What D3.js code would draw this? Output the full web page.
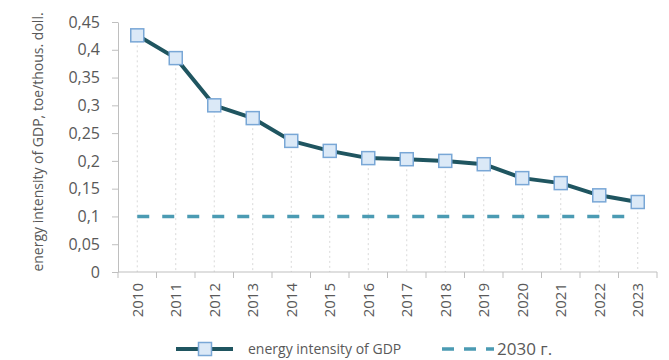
<!DOCTYPE html>
<html>
<head>
<meta charset="utf-8">
<script src="https://cdn.jsdelivr.net/npm/d3@7/dist/d3.min.js"></script>
<style>
  html, body { margin: 0; padding: 0; background: #fff; }
  svg { display: block; }
  text { font-family: "Open Sans", "Noto Sans", sans-serif; fill: #595959; }
</style>
</head>
<body>
<svg id="chart" width="669" height="360"></svg>
<script>
// Energy intensity of GDP by year, with the 2030 target level
const years = ["2010","2011","2012","2013","2014","2015","2016","2017","2018","2019","2020","2021","2022","2023"];
const intensity = [0.426, 0.385, 0.300, 0.277, 0.236, 0.218, 0.205, 0.203, 0.200, 0.194, 0.169, 0.160, 0.138, 0.126];
const target2030 = 0.1;
const yTicks = [0, 0.05, 0.1, 0.15, 0.2, 0.25, 0.3, 0.35, 0.4, 0.45];

(function () {
const svg = d3.select("#chart");
const mLeft = 118, mRight = 657, mTop = 22, mBottom = 272;

const x = d3.scaleBand().domain(years).range([mLeft, mRight]);
const y = d3.scaleLinear().domain([0, 0.45]).range([mBottom, mTop]);
const fmt = d => String(d).replace(".", ",");
const cx = d => x(d) + x.bandwidth() / 2;

// vertical dotted guides from each point down to the axis
svg.append("g").selectAll("line").data(years).join("line")
  .attr("x1", cx).attr("x2", cx)
  .attr("y1", (d, i) => y(intensity[i]))
  .attr("y2", mBottom)
  .attr("stroke", "#d9d9d9").attr("stroke-width", 1)
  .attr("stroke-dasharray", "2,3");

// y axis
const yAxis = svg.append("g").attr("transform", `translate(${mLeft},0)`)
  .call(d3.axisLeft(y).tickValues(yTicks).tickFormat(fmt).tickSize(6).tickSizeOuter(0));
yAxis.select(".domain").attr("stroke", "#bfbfbf");
yAxis.selectAll(".tick line").attr("stroke", "#bfbfbf");
yAxis.selectAll("text").attr("font-size", 16).attr("fill", "#595959").attr("dx", -9);

// x axis with ticks between categories
const xAxis = svg.append("g").attr("transform", `translate(0,${mBottom})`);
xAxis.append("line").attr("x1", mLeft).attr("x2", mRight).attr("stroke", "#bfbfbf");
xAxis.selectAll("line.tk").data(d3.range(years.length + 1)).join("line")
  .attr("class", "tk")
  .attr("x1", i => mLeft + i * x.step()).attr("x2", i => mLeft + i * x.step())
  .attr("y1", 0).attr("y2", 6).attr("stroke", "#bfbfbf");
xAxis.selectAll("text").data(years).join("text")
  .attr("transform", d => `translate(${cx(d) + 5.5},11) rotate(-90)`)
  .attr("text-anchor", "end")
  .attr("font-size", 15)
  .text(d => d);

// 2030 target line
svg.append("line")
  .attr("x1", cx(years[0]))
  .attr("x2", cx(years[years.length - 1]) - 12)
  .attr("y1", y(target2030)).attr("y2", y(target2030))
  .attr("stroke", "#4b9bb3").attr("stroke-width", 3.5)
  .attr("stroke-dasharray", "12,13");

// main series
const line = d3.line()
  .x((d, i) => cx(years[i]))
  .y(d => y(d));
svg.append("path").datum(intensity)
  .attr("d", line)
  .attr("fill", "none").attr("stroke", "#1f5560").attr("stroke-width", 4)
  .attr("stroke-linejoin", "round");

const ms = 13;
svg.append("g").selectAll("rect").data(intensity).join("rect")
  .attr("x", (d, i) => cx(years[i]) - ms / 2)
  .attr("y", d => y(d) - ms / 2)
  .attr("width", ms).attr("height", ms)
  .attr("fill", "#dbe9f7").attr("stroke", "#79a7d6").attr("stroke-width", 1.5);

// y axis title
svg.append("text")
  .attr("transform", "translate(43,142) rotate(-90)")
  .attr("text-anchor", "middle")
  .attr("font-size", 14)
  .attr("fill", "#404040")
  .text("energy intensity of GDP, toe/thous. doll.");

// legend
const lg = svg.append("g").attr("transform", "translate(0,349)");
lg.append("line").attr("x1", 176).attr("x2", 233).attr("y1", 0).attr("y2", 0)
  .attr("stroke", "#1f5560").attr("stroke-width", 4);
lg.append("rect").attr("x", 205 - ms / 2).attr("y", -ms / 2).attr("width", ms).attr("height", ms)
  .attr("fill", "#dbe9f7").attr("stroke", "#79a7d6").attr("stroke-width", 1.5);
lg.append("text").attr("x", 248).attr("y", 5).attr("font-size", 14)
  .attr("fill", "#404040").text("energy intensity of GDP");
lg.append("line").attr("x1", 442).attr("x2", 494).attr("y1", 0).attr("y2", 0)
  .attr("stroke", "#4b9bb3").attr("stroke-width", 3.5)
  .attr("stroke-dasharray", "12,10");
lg.append("text").attr("x", 497).attr("y", 6).attr("font-size", 17)
  .attr("fill", "#404040").text("2030 г.");
})();
</script>
</body>
</html>
